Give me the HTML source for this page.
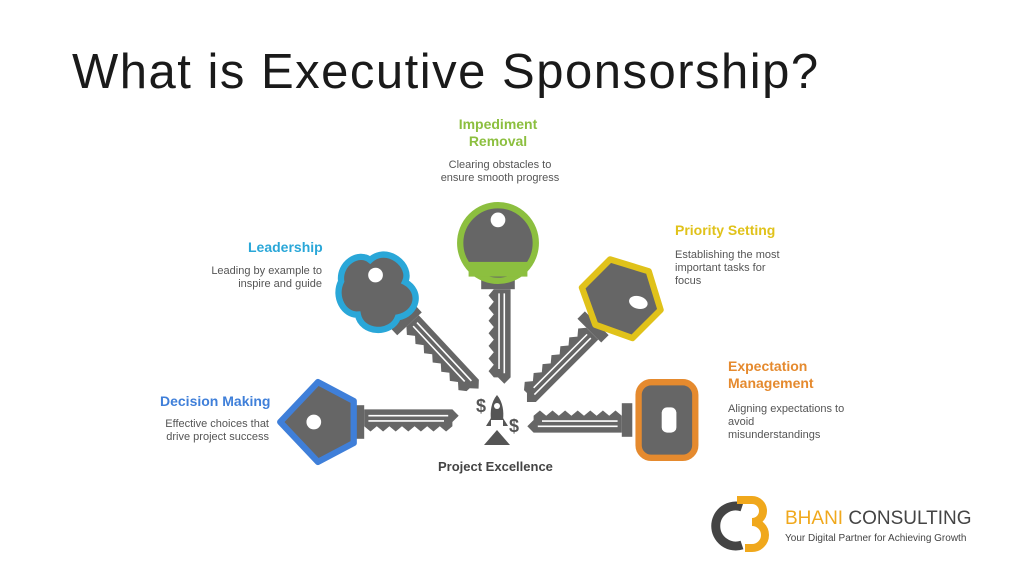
<!DOCTYPE html>
<html><head><style>
body{margin:0;width:1024px;height:568px;background:#fff;overflow:hidden;font-family:"Liberation Sans",sans-serif;position:relative}
.t{position:absolute;font-weight:bold;font-size:14px}
.d{position:absolute;font-size:11px;color:#555;line-height:13px}
</style></head><body>
<div style="position:absolute;left:72px;top:44px;font-size:49px;color:#1a1a1a;letter-spacing:1.5px">What is Executive Sponsorship?</div>

<div class="t" style="left:458px;top:116px;color:#8cbf3f;text-align:center;width:80px;line-height:17px">Impediment<br>Removal</div>
<div class="d" style="left:440px;top:159px;width:120px;text-align:center">Clearing obstacles to ensure smooth progress</div>
<div class="t" style="left:248px;top:239px;color:#2aa7d8">Leadership</div>
<div class="d" style="left:205px;top:265px;width:117px;text-align:right">Leading by example to inspire and guide</div>
<div class="t" style="left:675px;top:222px;color:#e0c21a">Priority Setting</div>
<div class="d" style="left:675px;top:249px;width:108px">Establishing the most important tasks for focus</div>
<div class="t" style="left:160px;top:393px;color:#3f7fd9">Decision Making</div>
<div class="d" style="left:150px;top:418px;width:119px;text-align:right">Effective choices that drive project success</div>
<div class="t" style="left:728px;top:358px;color:#e58a2e;line-height:17px">Expectation<br>Management</div>
<div class="d" style="left:728px;top:403px;width:120px">Aligning expectations to avoid misunderstandings</div>
<div class="t" style="left:438px;top:459px;color:#444;font-size:13px">Project Excellence</div>

<svg width="1024" height="568" style="position:absolute;left:0;top:0">
<defs>
<g id="blade">
<rect x="34" y="-16" width="10" height="32" fill="#666"/>
<path d="M44 -12 H128 L134 -6 L128 0 V4 L122 9 L116 4 L110 9 L104 4 L98 9 L92 4 L86 9 L80 4 L74 9 L68 4 L62 9 L56 4 L50 9 L44 4 Z" fill="#666"/>
<path d="M48 -6 H124 M48 -1 H120" stroke="#fff" stroke-width="1.5"/>
</g>
</defs>
<g transform="translate(318,422) scale(1.05)"><use href="#blade"/>
<path d="M-36 0 L0 -38 L34 -20 L34 20 L0 38 Z" fill="#666" stroke="#3f7fd9" stroke-width="6" stroke-linejoin="round"/>
<circle cx="-4" cy="0" r="7" fill="#fff"/></g>
<g transform="translate(378,290) rotate(47) scale(1.05)"><use href="#blade"/>
<path d="M-30 20 C-44 10 -40 -12 -26 -14 C-26 -36 6 -40 12 -24 C30 -30 42 -12 32 4 C40 20 20 40 4 30 C-4 40 -24 36 -30 20Z" fill="#666" stroke="#2aa7d8" stroke-width="6"/>
<circle cx="-12" cy="-8" r="7" fill="#fff"/></g>
<g transform="translate(498,243) rotate(90) scale(1.05)"><use href="#blade"/>
<circle r="36" fill="#666" stroke="#8cbf3f" stroke-width="6"/>
<rect x="18" y="-28" width="14" height="56" fill="#8cbf3f"/>
<circle cx="-22" cy="0" r="7" fill="#fff"/></g>
<g transform="translate(622,298) rotate(135) scale(1.05)"><use href="#blade"/>
<path d="M-36 0 L-18 -34 L20 -34 L36 0 L20 34 L-18 34 Z" fill="#666" stroke="#e0c21a" stroke-width="6" stroke-linejoin="round"/>
<ellipse cx="-8" cy="-14" rx="6" ry="9" fill="#fff" transform="rotate(-30 -8 -14)"/></g>
<g transform="translate(668,420) rotate(180) scale(1.05)"><use href="#blade"/>
<rect x="-26" y="-36" width="54" height="72" rx="12" fill="#666" stroke="#e58a2e" stroke-width="6"/>
<rect x="-8" y="-12" width="14" height="24" rx="5" fill="#fff"/></g>
<g fill="#555">
<path d="M497 395 C491 402 490 412 491 420 H503 C504 412 503 402 497 395Z"/>
<path d="M491 418 L486 426 H491Z M503 418 L508 426 H503Z"/>
<path d="M484 445 L497 430 L510 445Z"/>
<text x="476" y="412" font-size="18" font-weight="bold" font-family="Liberation Sans">$</text>
<text x="509" y="432" font-size="18" font-weight="bold" font-family="Liberation Sans">$</text>
</g>
<circle cx="497" cy="406" r="3" fill="#fff"/>
<path d="M742 507 A20 20 0 1 0 742 545" fill="none" stroke="#444" stroke-width="9"/>
<path d="M737 500 H752 A11 11 0 0 1 752 522 A13 13 0 0 1 752 548 H745" fill="none" stroke="#f0a81c" stroke-width="8"/>
<text x="785" y="524" font-size="19" font-family="Liberation Sans"><tspan fill="#f0a81c">BHANI</tspan><tspan fill="#444"> CONSULTING</tspan></text>
<text x="785" y="541" font-size="10" fill="#444" font-family="Liberation Sans">Your Digital Partner for Achieving Growth</text>
</svg>
</body></html>
